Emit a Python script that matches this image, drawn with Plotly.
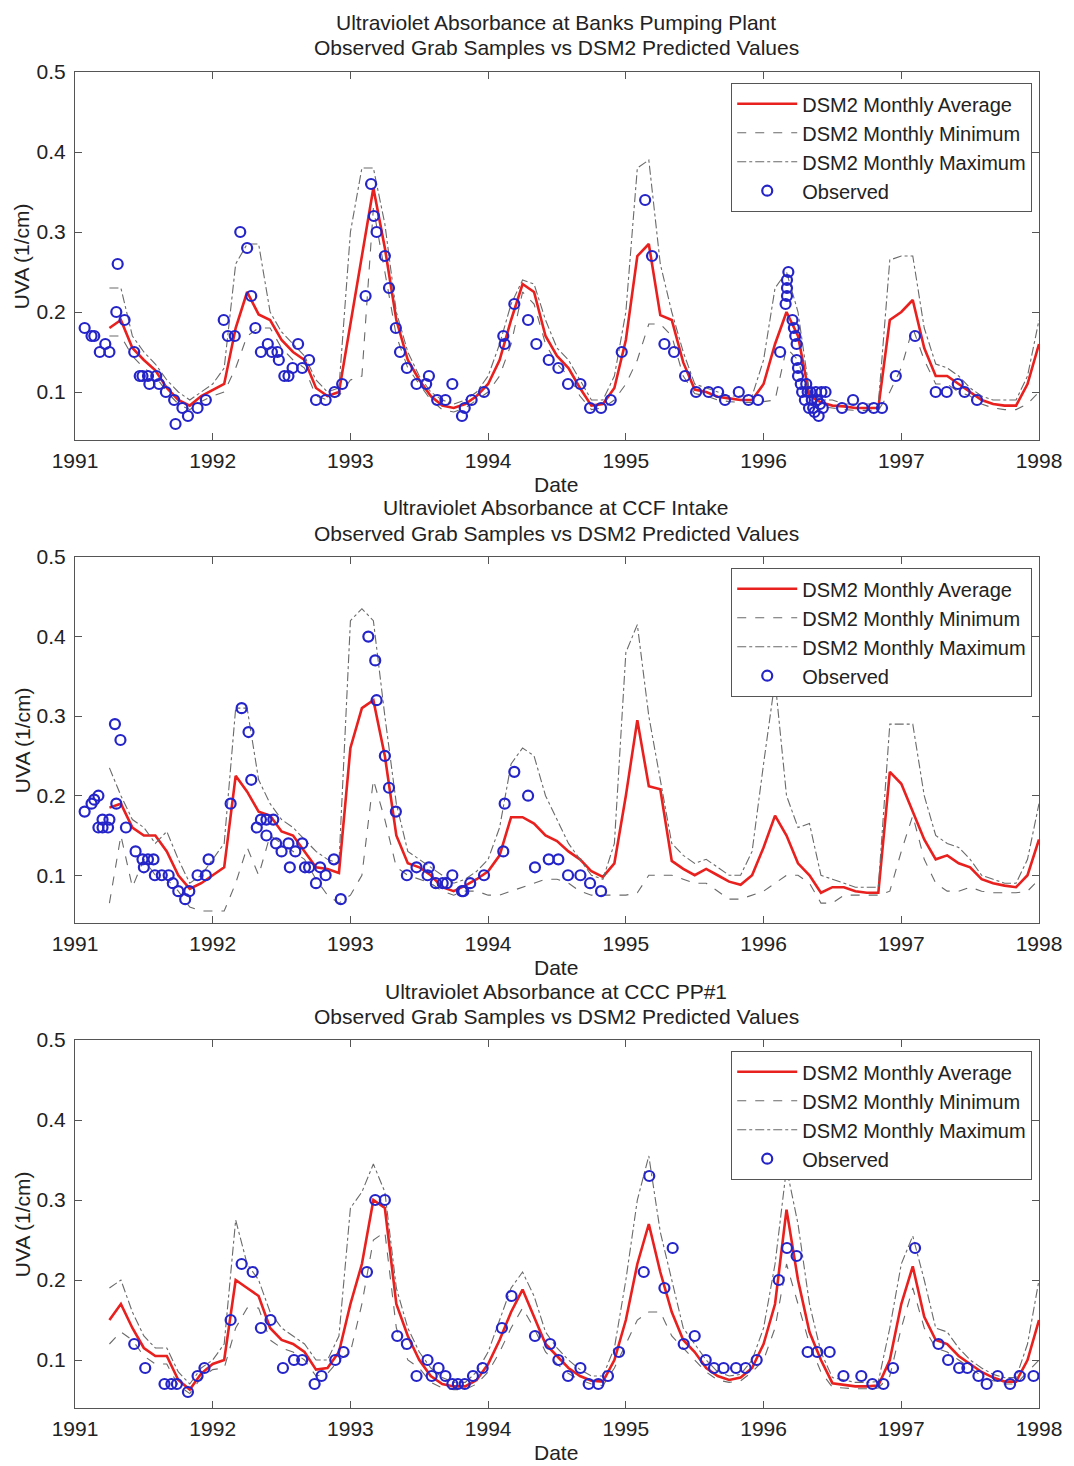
import plotly.graph_objects as go

# ---------------- data ----------------
# Monthly DSM2 values, April 1991 .. January 1998 (decimal years)
MONTH_INDEX = list(range(3, 85))
MONTHS = [1991 + k / 12 for k in MONTH_INDEX]

# Panel 1: Banks Pumping Plant
banks_avg = [0.18, 0.19, 0.155, 0.14, 0.127, 0.105, 0.09, 0.083, 0.095, 0.103,
             0.11, 0.18, 0.225, 0.197, 0.19, 0.165, 0.15, 0.14, 0.105, 0.095,
             0.1, 0.185, 0.27, 0.355, 0.28, 0.19, 0.14, 0.115, 0.095, 0.083,
             0.08, 0.085, 0.095, 0.11, 0.14, 0.19, 0.235, 0.225, 0.17, 0.145,
             0.13, 0.105, 0.083, 0.085, 0.105, 0.165, 0.27, 0.285, 0.196, 0.19,
             0.137, 0.103, 0.1, 0.094, 0.092, 0.09, 0.09, 0.11, 0.16, 0.2,
             0.17, 0.095, 0.087, 0.083, 0.082, 0.08, 0.08, 0.08, 0.19, 0.2,
             0.215, 0.155, 0.12, 0.12, 0.11, 0.1, 0.09, 0.085, 0.083, 0.083,
             0.11, 0.16]
banks_min = [0.17, 0.17, 0.145, 0.13, 0.12, 0.1, 0.085, 0.078, 0.088, 0.095,
             0.1, 0.13, 0.17, 0.18, 0.18, 0.155, 0.14, 0.13, 0.095, 0.09,
             0.095, 0.115, 0.12, 0.33, 0.25, 0.17, 0.13, 0.11, 0.09, 0.078,
             0.075, 0.08, 0.09, 0.1, 0.12, 0.16, 0.225, 0.21, 0.16, 0.135,
             0.12, 0.095, 0.078, 0.08, 0.09, 0.11, 0.14, 0.185, 0.185, 0.17,
             0.12, 0.098, 0.095, 0.09, 0.088, 0.087, 0.087, 0.088, 0.09, 0.155,
             0.14, 0.09, 0.082, 0.08, 0.078, 0.077, 0.077, 0.077, 0.1, 0.13,
             0.18, 0.14, 0.11, 0.11, 0.1, 0.095, 0.085, 0.08, 0.078, 0.078,
             0.085, 0.1]
banks_max = [0.23, 0.23, 0.17, 0.15, 0.135, 0.115, 0.1, 0.09, 0.1, 0.11,
             0.13, 0.26, 0.285, 0.285, 0.2, 0.175, 0.16, 0.145, 0.115, 0.1,
             0.105, 0.3, 0.38, 0.38, 0.31, 0.2, 0.15, 0.12, 0.1, 0.09,
             0.085, 0.09, 0.1, 0.12, 0.16, 0.21, 0.24, 0.235, 0.19, 0.155,
             0.14, 0.115, 0.09, 0.09, 0.12, 0.2, 0.38, 0.39, 0.26, 0.2,
             0.15, 0.11, 0.105, 0.1, 0.095, 0.095, 0.095, 0.14, 0.23, 0.25,
             0.2, 0.1, 0.09, 0.09, 0.085, 0.085, 0.085, 0.085, 0.265, 0.27,
             0.27, 0.18, 0.135, 0.13, 0.12, 0.105, 0.095, 0.09, 0.09, 0.09,
             0.12, 0.19]
banks_obs_date = [1991.07, 1991.12, 1991.14, 1991.18, 1991.22, 1991.25, 1991.30, 1991.31,
                  1991.36, 1991.43, 1991.47, 1991.49, 1991.53, 1991.54, 1991.59, 1991.61,
                  1991.66, 1991.72, 1991.73, 1991.78, 1991.82, 1991.89, 1991.95, 1992.08,
                  1992.11, 1992.16, 1992.20, 1992.25, 1992.28, 1992.31, 1992.35, 1992.40,
                  1992.43, 1992.47, 1992.48, 1992.52, 1992.55, 1992.58, 1992.62, 1992.65,
                  1992.70, 1992.75, 1992.82, 1992.885, 1992.94, 1993.11, 1993.15, 1993.17,
                  1993.19, 1993.25, 1993.28, 1993.33, 1993.36, 1993.41, 1993.48, 1993.55,
                  1993.57, 1993.63, 1993.69, 1993.74, 1993.81, 1993.83, 1993.88, 1993.97,
                  1994.11, 1994.12, 1994.19, 1994.29, 1994.35, 1994.44, 1994.51, 1994.58,
                  1994.67, 1994.74, 1994.82, 1994.89, 1994.97, 1995.14, 1995.19, 1995.28,
                  1995.35, 1995.43, 1995.51, 1995.60, 1995.67, 1995.72, 1995.82, 1995.89,
                  1995.96, 1996.12, 1996.16, 1996.17, 1996.17, 1996.17, 1996.18, 1996.21,
                  1996.22, 1996.23, 1996.24, 1996.24, 1996.25, 1996.25, 1996.27, 1996.28,
                  1996.30, 1996.31, 1996.32, 1996.33, 1996.34, 1996.35, 1996.36, 1996.37,
                  1996.38, 1996.39, 1996.40, 1996.41, 1996.42, 1996.43, 1996.45, 1996.57,
                  1996.65, 1996.72, 1996.80, 1996.86, 1996.96, 1997.10, 1997.25, 1997.33,
                  1997.41, 1997.46, 1997.55]
banks_obs_uva = [0.18, 0.17, 0.17, 0.15, 0.16, 0.15, 0.20, 0.26,
                 0.19, 0.15, 0.12, 0.12, 0.12, 0.11, 0.12, 0.11,
                 0.10, 0.09, 0.06, 0.08, 0.07, 0.08, 0.09, 0.19,
                 0.17, 0.17, 0.30, 0.28, 0.22, 0.18, 0.15, 0.16,
                 0.15, 0.15, 0.14, 0.12, 0.12, 0.13, 0.16, 0.13,
                 0.14, 0.09, 0.09, 0.10, 0.11, 0.22, 0.36, 0.32,
                 0.30, 0.27, 0.23, 0.18, 0.15, 0.13, 0.11, 0.11,
                 0.12, 0.09, 0.09, 0.11, 0.07, 0.08, 0.09, 0.10,
                 0.17, 0.16, 0.21, 0.19, 0.16, 0.14, 0.13, 0.11,
                 0.11, 0.08, 0.08, 0.09, 0.15, 0.34, 0.27, 0.16,
                 0.15, 0.12, 0.10, 0.10, 0.10, 0.09, 0.10, 0.09,
                 0.09, 0.15, 0.21, 0.22, 0.23, 0.24, 0.25, 0.19,
                 0.18, 0.17, 0.16, 0.14, 0.13, 0.12, 0.11, 0.10,
                 0.09, 0.11, 0.10, 0.08, 0.10, 0.09, 0.08, 0.075,
                 0.10, 0.09, 0.07, 0.085, 0.10, 0.08, 0.10, 0.08,
                 0.09, 0.08, 0.08, 0.08, 0.12, 0.17, 0.10, 0.10,
                 0.11, 0.10, 0.09]

# Panel 2: CCF Intake
ccf_avg = [0.185, 0.19, 0.16, 0.15, 0.15, 0.13, 0.1, 0.083, 0.09, 0.1,
           0.11, 0.225, 0.205, 0.18, 0.175, 0.155, 0.15, 0.13, 0.11, 0.108,
           0.103, 0.26, 0.31, 0.32, 0.25, 0.15, 0.115, 0.11, 0.1, 0.085,
           0.08, 0.087, 0.095, 0.105, 0.125, 0.173, 0.173, 0.165, 0.15, 0.143,
           0.13, 0.12, 0.105, 0.098, 0.115, 0.2, 0.295, 0.212, 0.208, 0.118,
           0.108, 0.1, 0.108, 0.1, 0.092, 0.088, 0.1, 0.135, 0.175, 0.15,
           0.115, 0.1, 0.078, 0.085, 0.085, 0.08, 0.078, 0.078, 0.23, 0.215,
           0.18, 0.145, 0.12, 0.125, 0.115, 0.11, 0.095, 0.09, 0.087, 0.085,
           0.1, 0.145]
ccf_min = [0.065, 0.15, 0.085, 0.12, 0.1, 0.095, 0.08, 0.06, 0.055, 0.055,
           0.055, 0.09, 0.135, 0.1, 0.15, 0.14, 0.13, 0.12, 0.095, 0.075,
           0.065, 0.075, 0.1, 0.22, 0.17, 0.11, 0.1, 0.095, 0.09, 0.08,
           0.075, 0.08, 0.08, 0.075, 0.075, 0.08, 0.085, 0.09, 0.095, 0.095,
           0.09, 0.08, 0.075, 0.075, 0.075, 0.075, 0.078, 0.1, 0.1, 0.1,
           0.095, 0.09, 0.09, 0.08, 0.07, 0.07, 0.075, 0.08, 0.09, 0.1,
           0.1, 0.09, 0.065, 0.065, 0.075, 0.075, 0.075, 0.075, 0.08, 0.13,
           0.175, 0.12, 0.09, 0.08, 0.08, 0.085, 0.08, 0.078, 0.078, 0.078,
           0.08, 0.095]
ccf_max = [0.235, 0.2, 0.17, 0.16, 0.14, 0.155, 0.12, 0.09, 0.1, 0.12,
           0.14, 0.31, 0.31, 0.22, 0.19, 0.17, 0.16, 0.145, 0.13, 0.12,
           0.115, 0.42, 0.435, 0.42, 0.3, 0.19, 0.13, 0.12, 0.11, 0.1,
           0.09, 0.095, 0.105, 0.12, 0.16, 0.24, 0.26, 0.25, 0.2, 0.17,
           0.14, 0.12, 0.1, 0.095, 0.14, 0.38, 0.415, 0.3, 0.22, 0.14,
           0.125, 0.115, 0.12, 0.11, 0.1, 0.1, 0.13, 0.24, 0.345, 0.2,
           0.16, 0.165, 0.1, 0.095, 0.09, 0.085, 0.085, 0.085, 0.29, 0.29,
           0.29, 0.2, 0.15, 0.14, 0.135, 0.12, 0.1, 0.095, 0.09, 0.09,
           0.12, 0.19]
ccf_obs_date = [1991.07, 1991.12, 1991.14, 1991.17, 1991.17, 1991.20, 1991.24, 1991.20,
                1991.25, 1991.29, 1991.30, 1991.33, 1991.37, 1991.44, 1991.49, 1991.53,
                1991.57, 1991.50, 1991.58, 1991.63, 1991.68, 1991.71, 1991.75, 1991.80,
                1991.83, 1991.89, 1991.95, 1991.97, 1992.13, 1992.21, 1992.26, 1992.28,
                1992.32, 1992.35, 1992.39, 1992.44, 1992.39, 1992.46, 1992.50, 1992.55,
                1992.60, 1992.65, 1992.56, 1992.67, 1992.70, 1992.75, 1992.78, 1992.82,
                1992.88, 1992.93, 1993.13, 1993.18, 1993.19, 1993.25, 1993.28, 1993.33,
                1993.41, 1993.48, 1993.57, 1993.56, 1993.62, 1993.67, 1993.70, 1993.74,
                1993.81, 1993.82, 1993.87, 1993.97, 1994.11, 1994.12, 1994.19, 1994.29,
                1994.34, 1994.44, 1994.51, 1994.58, 1994.67, 1994.74, 1994.82]
ccf_obs_uva = [0.18, 0.19, 0.195, 0.20, 0.16, 0.16, 0.16, 0.17,
               0.17, 0.29, 0.19, 0.27, 0.16, 0.13, 0.12, 0.12,
               0.12, 0.11, 0.10, 0.10, 0.10, 0.09, 0.08, 0.07,
               0.08, 0.10, 0.10, 0.12, 0.19, 0.31, 0.28, 0.22,
               0.16, 0.17, 0.17, 0.17, 0.15, 0.14, 0.13, 0.14,
               0.13, 0.14, 0.11, 0.11, 0.11, 0.09, 0.11, 0.10,
               0.12, 0.07, 0.40, 0.37, 0.32, 0.25, 0.21, 0.18,
               0.10, 0.11, 0.11, 0.10, 0.09, 0.09, 0.09, 0.10,
               0.08, 0.08, 0.09, 0.10, 0.13, 0.19, 0.23, 0.20,
               0.11, 0.12, 0.12, 0.10, 0.10, 0.09, 0.08]

# Panel 3: CCC PP#1
ccc_avg = [0.15, 0.17, 0.14, 0.115, 0.105, 0.105, 0.075, 0.063, 0.083, 0.095,
           0.1, 0.2, 0.19, 0.18, 0.14, 0.125, 0.12, 0.11, 0.088, 0.09,
           0.11, 0.17, 0.22, 0.3, 0.29, 0.17, 0.13, 0.1, 0.08, 0.07,
           0.067, 0.067, 0.075, 0.095, 0.125, 0.16, 0.188, 0.155, 0.12, 0.105,
           0.09, 0.08, 0.074, 0.073, 0.1, 0.15, 0.22, 0.27, 0.21, 0.16,
           0.125, 0.11, 0.09, 0.08, 0.075, 0.078, 0.09, 0.12, 0.17, 0.288,
           0.2, 0.135, 0.1, 0.071, 0.069, 0.067, 0.067, 0.068, 0.1, 0.17,
           0.217, 0.154, 0.125, 0.12, 0.105, 0.095, 0.085, 0.078, 0.073, 0.073,
           0.1, 0.15]
ccc_min = [0.12, 0.135, 0.125, 0.105, 0.095, 0.095, 0.068, 0.058, 0.078, 0.088,
           0.09, 0.14, 0.165, 0.165, 0.125, 0.115, 0.11, 0.1, 0.08, 0.083,
           0.1, 0.11, 0.17, 0.25, 0.26, 0.14, 0.1, 0.09, 0.072, 0.065,
           0.063, 0.063, 0.07, 0.085, 0.11, 0.14, 0.165, 0.14, 0.11, 0.095,
           0.083, 0.075, 0.07, 0.068, 0.09, 0.12, 0.15, 0.16, 0.16, 0.13,
           0.115, 0.1, 0.085, 0.075, 0.072, 0.074, 0.085, 0.1, 0.14, 0.22,
           0.17, 0.12, 0.085, 0.066, 0.065, 0.064, 0.064, 0.065, 0.08, 0.14,
           0.19, 0.14, 0.115, 0.11, 0.1, 0.09, 0.08, 0.074, 0.07, 0.07,
           0.085, 0.1]
ccc_max = [0.19, 0.2, 0.16, 0.13, 0.115, 0.115, 0.085, 0.07, 0.09, 0.1,
           0.12, 0.275, 0.22, 0.2, 0.16, 0.14, 0.13, 0.12, 0.1, 0.1,
           0.13, 0.29, 0.31, 0.345, 0.31, 0.19, 0.14, 0.11, 0.09, 0.078,
           0.072, 0.072, 0.085, 0.11, 0.15, 0.19, 0.21, 0.18, 0.135, 0.115,
           0.1, 0.088, 0.08, 0.08, 0.115, 0.2, 0.3, 0.355, 0.26, 0.2,
           0.14, 0.12, 0.1, 0.085, 0.08, 0.082, 0.1, 0.14, 0.22, 0.34,
           0.27, 0.17, 0.11, 0.078, 0.075, 0.072, 0.072, 0.073, 0.14, 0.22,
           0.255, 0.2, 0.14, 0.135, 0.115, 0.1, 0.09, 0.082, 0.078, 0.078,
           0.12, 0.2]
ccc_obs_date = [1991.43, 1991.51, 1991.65, 1991.70, 1991.74, 1991.82, 1991.89, 1991.94,
                1992.13, 1992.21, 1992.29, 1992.35, 1992.42, 1992.51, 1992.59, 1992.65,
                1992.74, 1992.79, 1992.89, 1992.95, 1993.12, 1993.18, 1993.25, 1993.34,
                1993.41, 1993.48, 1993.56, 1993.59, 1993.64, 1993.69, 1993.74, 1993.78,
                1993.83, 1993.89, 1993.96, 1994.10, 1994.17, 1994.34, 1994.45, 1994.51,
                1994.58, 1994.67, 1994.73, 1994.80, 1994.87, 1994.95, 1995.13, 1995.17,
                1995.28, 1995.34, 1995.42, 1995.50, 1995.58, 1995.64, 1995.71, 1995.80,
                1995.87, 1995.95, 1996.11, 1996.17, 1996.24, 1996.32, 1996.39, 1996.48,
                1996.58, 1996.71, 1996.79, 1996.87, 1996.94, 1997.10, 1997.27, 1997.34,
                1997.42, 1997.48, 1997.56, 1997.62, 1997.70, 1997.79, 1997.86, 1997.96]
ccc_obs_uva = [0.12, 0.09, 0.07, 0.07, 0.07, 0.06, 0.08, 0.09,
               0.15, 0.22, 0.21, 0.14, 0.15, 0.09, 0.10, 0.10,
               0.07, 0.08, 0.10, 0.11, 0.21, 0.30, 0.30, 0.13,
               0.12, 0.08, 0.10, 0.08, 0.09, 0.08, 0.07, 0.07,
               0.07, 0.08, 0.09, 0.14, 0.18, 0.13, 0.12, 0.10,
               0.08, 0.09, 0.07, 0.07, 0.08, 0.11, 0.21, 0.33,
               0.19, 0.24, 0.12, 0.13, 0.10, 0.09, 0.09, 0.09,
               0.09, 0.10, 0.20, 0.24, 0.23, 0.11, 0.11, 0.11,
               0.08, 0.08, 0.07, 0.07, 0.09, 0.24, 0.12, 0.10,
               0.09, 0.09, 0.08, 0.07, 0.08, 0.07, 0.08, 0.08]

STATIONS = ["Banks Pumping Plant", "CCF Intake", "CCC PP#1"]
YEAR_TICKS = [1991, 1992, 1993, 1994, 1995, 1996, 1997, 1998]
UVA_TICKS = [0.1, 0.2, 0.3, 0.4, 0.5]
UVA_TICK_TEXT = ["0.1", "0.2", "0.3", "0.4", "0.5"]
SERIES_NAMES = ["DSM2 Monthly Average", "DSM2 Monthly Minimum",
                "DSM2 Monthly Maximum", "Observed"]

panels = [
    (banks_avg, banks_min, banks_max, banks_obs_date, banks_obs_uva),
    (ccf_avg, ccf_min, ccf_max, ccf_obs_date, ccf_obs_uva),
    (ccc_avg, ccc_min, ccc_max, ccc_obs_date, ccc_obs_uva),
]

# ---------------- layout geometry ----------------
W, H = 1074, 1466
ML, MR, MT, MB = 75, 31, 72, 58
PLOT_H = H - MT - MB          # 1336
PLOT_W = W - ML - MR          # 968
# pixel top/bottom of each panel's plotting area
PANEL_PX = [(72, 440), (557, 923), (1040, 1408)]


def py2paper(py):
    return (H - MB - py) / PLOT_H


def px2paper(px):
    return (px - ML) / PLOT_W


FONT = "Liberation Sans, Arial, Helvetica, sans-serif"
FS = 21
LFS = 20
TXT = "#222222"
AX = "#555555"
RED = "#e8201e"
BLUE = "#2424c8"
GRAY = "#6a6a6a"

fig = go.Figure()
layout = dict(
    width=W, height=H,
    margin=dict(l=ML, r=MR, t=MT, b=MB),
    paper_bgcolor="white", plot_bgcolor="white",
    font=dict(family=FONT, size=FS, color=TXT),
    showlegend=True,
)
annotations = []

for i, (avg, mn, mx, od, ov) in enumerate(panels):
    n = i + 1
    xa = "x" if n == 1 else f"x{n}"
    ya = "y" if n == 1 else f"y{n}"
    leg = "legend" if n == 1 else f"legend{n}"
    top_px, bot_px = PANEL_PX[i]

    fig.add_trace(go.Scatter(x=MONTHS, y=avg, mode="lines", name=SERIES_NAMES[0],
                             line=dict(color=RED, width=2.6), xaxis=xa, yaxis=ya,
                             legend=leg))
    fig.add_trace(go.Scatter(x=MONTHS, y=mn, mode="lines", name=SERIES_NAMES[1],
                             line=dict(color=GRAY, width=1.1, dash="dash"),
                             xaxis=xa, yaxis=ya, legend=leg))
    fig.add_trace(go.Scatter(x=MONTHS, y=mx, mode="lines", name=SERIES_NAMES[2],
                             line=dict(color=GRAY, width=1.1, dash="dashdot"),
                             xaxis=xa, yaxis=ya, legend=leg))
    fig.add_trace(go.Scatter(x=od, y=ov, mode="markers", name=SERIES_NAMES[3],
                             marker=dict(symbol="circle-open", size=10, color=BLUE,
                                         line=dict(width=2.2, color=BLUE)),
                             xaxis=xa, yaxis=ya, legend=leg))

    axis_common = dict(showline=True, linecolor=AX, linewidth=1.2, mirror="ticks",
                       ticks="inside", ticklen=7, tickcolor=AX, tickwidth=1,
                       showgrid=False, zeroline=False,
                       tickfont=dict(family=FONT, size=FS, color=TXT))
    layout[("xaxis" if n == 1 else f"xaxis{n}")] = dict(
        axis_common, domain=[0, 1], range=[1991, 1998],
        tickvals=YEAR_TICKS, ticktext=[str(v) for v in YEAR_TICKS],
        anchor=ya, ticklabelstandoff=2)
    layout[("yaxis" if n == 1 else f"yaxis{n}")] = dict(
        axis_common, domain=[py2paper(bot_px), py2paper(top_px)],
        range=[0.04, 0.5], tickvals=UVA_TICKS, ticktext=UVA_TICK_TEXT,
        anchor=xa, ticklabelstandoff=4)

    layout[leg] = dict(
        x=px2paper(1036), xanchor="right",
        y=py2paper(top_px + 11), yanchor="top",
        bgcolor="white", bordercolor=AX, borderwidth=1.2,
        font=dict(family=FONT, size=LFS, color=TXT),
        itemwidth=60, tracegroupgap=0,
    )

    # two-line title
    annotations.append(dict(text=f"Ultraviolet Absorbance at {STATIONS[i]}",
                            xref="paper", yref="paper", x=px2paper(558),
                            y=py2paper(top_px - 49), xanchor="center",
                            yanchor="middle", showarrow=False, borderpad=0,
                            font=dict(family=FONT, size=FS, color=TXT)))
    annotations.append(dict(text="Observed Grab Samples vs DSM2 Predicted Values",
                            xref="paper", yref="paper", x=px2paper(558),
                            y=py2paper(top_px - 24), xanchor="center",
                            yanchor="middle", showarrow=False, borderpad=0,
                            font=dict(family=FONT, size=FS, color=TXT)))
    # x label
    annotations.append(dict(text="Date", xref="paper", yref="paper",
                            x=px2paper(558), y=py2paper(bot_px + 44),
                            xanchor="center", yanchor="middle", showarrow=False,
                            borderpad=0,
                            font=dict(family=FONT, size=FS, color=TXT)))
    # y label
    annotations.append(dict(text="UVA (1/cm)", xref="paper", yref="paper",
                            x=px2paper(22), y=py2paper((top_px + bot_px) / 2),
                            xanchor="center", yanchor="middle", textangle=-90,
                            showarrow=False,
                            font=dict(family=FONT, size=FS, color=TXT)))

layout["annotations"] = annotations
fig.update_layout(**layout)
fig.write_html("out.html")
